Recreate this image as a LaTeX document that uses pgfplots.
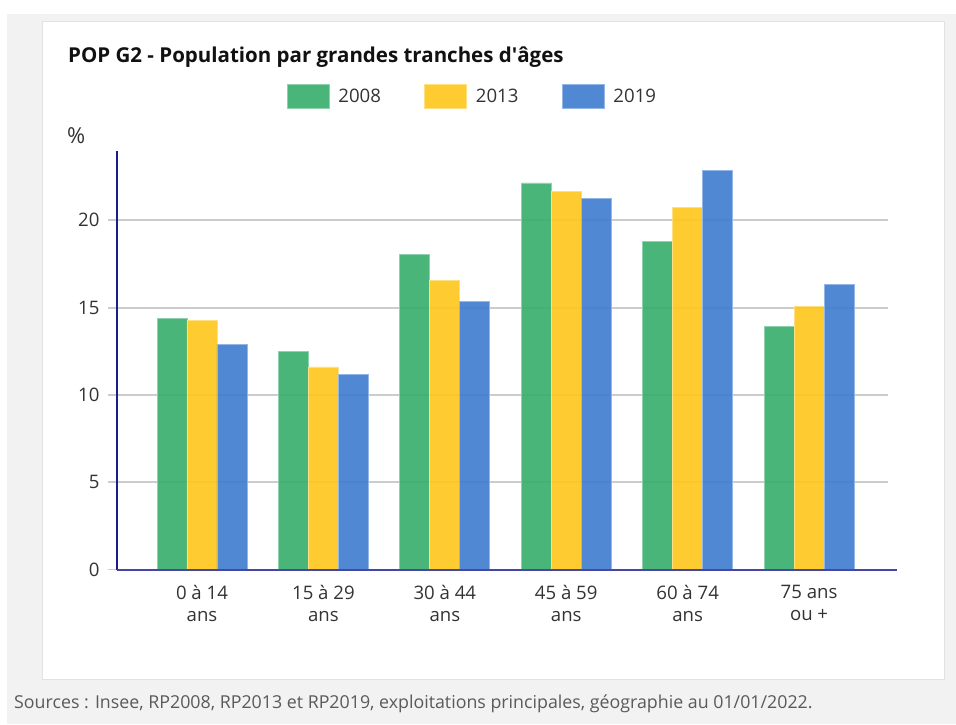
\documentclass[border=0pt]{standalone}
\usepackage{fontspec}
\setmainfont{Open Sans}
\usepackage{pgfplots}
\pgfplotsset{compat=1.18}

% series and frame colours
\definecolor{c2008}{RGB}{55,174,107}
\definecolor{c2013}{RGB}{254,199,27}
\definecolor{c2019}{RGB}{62,124,207}
\definecolor{axisnavy}{RGB}{28,28,140}
\definecolor{basenavy}{RGB}{70,70,165}
\definecolor{gridgrey}{RGB}{204,204,204}
\definecolor{pagegrey}{RGB}{242,242,242}
\definecolor{panelline}{RGB}{226,226,226}
\definecolor{labelgrey}{RGB}{51,51,51}
\definecolor{titleblack}{RGB}{17,17,17}
\definecolor{sourcegrey}{RGB}{90,90,90}

\pgfplotsset{
  swatch/.style={legend image code/.code={\fill[##1] (0pt,-12pt) rectangle (42pt,12pt);}},
}

\begin{document}
\begin{tikzpicture}
% page, panel and texts, in pt measured from the page's lower left corner
\begin{scope}[x=1pt, y=1pt, shift={(-117pt,-154.5pt)}]
\fill[white] (0,0) rectangle (956,724);
\fill[pagegrey] (7,0) rectangle (956,710);
\filldraw[fill=white, draw=panelline, line width=1pt] (43,45) rectangle (944,702);
\node[anchor=base west, inner sep=0pt, text=titleblack,
      font=\bfseries\fontsize{20.5}{24}\selectfont] at (68,661)
  {POP G2 - Population par grandes tranches d\textquotesingle âges};
\node[anchor=base west, inner sep=0pt, text=labelgrey,
      font=\fontsize{22}{26}\selectfont] at (67,580) {\%};
\node[anchor=base west, inner sep=0pt, text=sourcegrey,
      font=\fontsize{17.8}{21}\selectfont] at (14,16)
  {Sources : Insee, RP2008, RP2013 et RP2019, exploitations principales, géographie au 01/01/2022.};
\end{scope}

\begin{axis}[
  scale only axis, width=771pt, height=419pt,
  xmin=-0.70, xmax=5.65, ymin=0, ymax=24,
  ybar, bar width=0.247,
  axis line style={draw=none},
  ymajorgrids, grid style={gridgrey, line width=1.8pt},
  ytick={0,5,10,15,20},
  xtick={0,...,5},
  xticklabels={{0 à 14\\ans},{15 à 29\\ans},{30 à 44\\ans},{45 à 59\\ans},{60 à 74\\ans},{75 ans\\ou +}},
  tick align=outside, major tick length=9pt,
  ytick pos=left,
  y tick style={gridgrey, line width=1.8pt},
  x tick style={draw=none},
  tick label style={font=\fontsize{18.6}{22}\selectfont, text=labelgrey},
  xticklabel style={align=center, yshift=-3pt},
  yticklabel style={xshift=-5pt},
  /pgf/number format/assume math mode=true,
  legend columns=3,
  legend style={at={(0.2201,1.1294)}, anchor=west, draw=none, fill=none,
    inner sep=0pt, font=\fontsize{18.6}{22}\selectfont, text=labelgrey,
    /tikz/every odd column/.append style={column sep=6.7pt},
    /tikz/every even column/.append style={column sep=41.5pt},
    cells={anchor=west}},
  clip=false,
]
\addplot[fill=c2008, fill opacity=0.9, draw=c2008!55!white, line width=0.8pt, bar shift=-0.247, swatch]
  coordinates {(0,14.38) (1,12.47) (2,18.05) (3,22.14) (4,18.80) (5,13.94)};
\addplot[fill=c2013, fill opacity=0.9, draw=c2013!55!white, line width=0.8pt, bar shift=0, swatch]
  coordinates {(0,14.29) (1,11.60) (2,16.54) (3,21.68) (4,20.75) (5,15.05)};
\addplot[fill=c2019, fill opacity=0.9, draw=c2019!55!white, line width=0.8pt, bar shift=0.247, swatch]
  coordinates {(0,12.88) (1,11.16) (2,15.36) (3,21.26) (4,22.88) (5,16.33)};
\legend{2008,2013,2019}
% axis lines
\draw[axisnavy, line width=1.8pt] (rel axis cs:0,0) -- (rel axis cs:0,1);
\draw[basenavy, line width=2pt] (rel axis cs:0,0) -- ([xshift=9pt]rel axis cs:1,0);
\end{axis}
\pgfresetboundingbox
\useasboundingbox (-117pt,-154.5pt) rectangle (839pt,569.5pt);
\end{tikzpicture}
\end{document}
